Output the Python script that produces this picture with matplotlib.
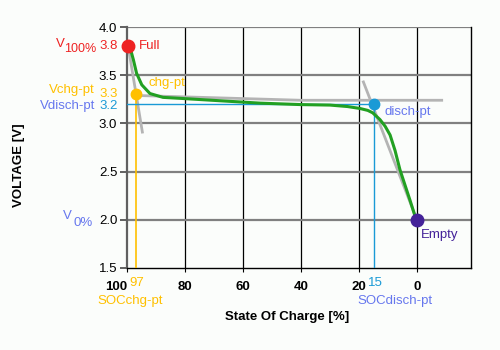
import matplotlib
matplotlib.use('Agg')
import matplotlib.pyplot as plt

plt.rcParams['font.family'] = ['Liberation Sans', 'DejaVu Sans']

# Discharge curve of the cell (SOC in %, voltage in V)
soc = [99.6, 98.7, 97.8, 96.7, 94.9, 92.1, 87.6, 81.7, 68, 54, 40, 30, 24,
       19.7, 17, 15.3, 12.8, 11, 9.3, 7.6, 5.9, 2.4, 0.3]
volt = [3.8, 3.76, 3.66, 3.52, 3.40, 3.31, 3.27, 3.26, 3.235, 3.21, 3.195,
        3.19, 3.175, 3.155, 3.135, 3.11, 3.04, 2.97, 2.88, 2.72, 2.52, 2.2, 2.0]

# Characteristic points
full_soc, full_v = 99.6, 3.8
chg_soc, chg_v = 97, 3.3
disch_soc, disch_v = 15, 3.2
empty_soc, empty_v = 0, 2.0

# Tangent construction lines
tan_full_soc = [99.6, 94.7]
tan_full_v = [3.8, 2.91]
tan_flat_soc = [97, 40, -8.5]
tan_flat_v = [3.29, 3.24, 3.24]
tan_end_soc = [18.5, 0.7]
tan_end_v = [3.43, 2.05]

x_ticks = [100, 80, 60, 40, 20, 0]
y_ticks = [1.5, 2.0, 2.5, 3.0, 3.5, 4.0]

RED = '#ee2222'
ORANGE = '#ffc000'
BLUE = '#1a9ad6'
LAV = '#6677ee'
PURPLE = '#442299'
GREEN = '#22a022'
BG = '#fbfdfb'

fig = plt.figure(figsize=(5, 3.5), dpi=100, facecolor=BG)
ax = fig.add_axes([127 / 500, 1 - 268 / 350, 344 / 500, 241 / 350])
ax.set_facecolor(BG)
ax.set_xlim(100, -18.6)
ax.set_ylim(1.5, 4.0)

# grid: black verticals, grey horizontals
for x in x_ticks[1:]:
    ax.axvline(x, color='black', lw=0.9, zorder=1)
for y in y_ticks[1:]:
    ax.axhline(y, color='#808080', lw=1.6, zorder=1)

ax.spines['top'].set_visible(False)
ax.spines['left'].set_color('#606060')
ax.spines['left'].set_linewidth(1.6)
ax.spines['bottom'].set_linewidth(1.0)
ax.spines['right'].set_linewidth(1.0)

ax.set_xticks(x_ticks)
ax.set_xticklabels([str(v) for v in x_ticks], fontweight='bold', fontsize=9.5)
ax.get_xticklabels()[0].set_ha('right')
ax.set_yticks(y_ticks)
ax.set_yticklabels(['%.1f' % v for v in y_ticks], fontsize=9.5)
ax.tick_params(axis='x', length=3, pad=6, direction='out')
ax.tick_params(axis='y', length=5, width=1.4, color='#606060', pad=2)

# construction lines
ax.plot(tan_full_soc, tan_full_v, color='#b4b4b4', lw=2, zorder=2)
ax.plot(tan_flat_soc, tan_flat_v, color='#b4b4b4', lw=2, zorder=2)
ax.plot(tan_end_soc, tan_end_v, color='#b4b4b4', lw=2, zorder=2)

ax.plot([chg_soc, chg_soc], [chg_v, 1.5], color=ORANGE, lw=1.2, zorder=3)
ax.plot([disch_soc, disch_soc], [disch_v, 1.5], color=BLUE, lw=1.0, zorder=3)
ax.plot([100, disch_soc], [disch_v, disch_v], color=BLUE, lw=1.0, zorder=3)

ax.plot(soc, volt, color=GREEN, lw=2.2, zorder=4)

ax.plot(full_soc, full_v, 'o', color=RED, ms=9, zorder=5, clip_on=False)
ax.plot(chg_soc, chg_v, 'o', color=ORANGE, ms=7.5, zorder=5)
ax.plot(disch_soc, disch_v, 'o', color=BLUE, ms=7.5, zorder=5)
ax.plot(empty_soc, empty_v, 'o', color=PURPLE, ms=9, zorder=5)

# point labels
ax.annotate('Full', (full_soc, full_v), xytext=(8, 0), textcoords='offset points',
            color=RED, fontsize=9.5, va='center')
ax.annotate('chg-pt', (chg_soc, chg_v), xytext=(9, 8), textcoords='offset points',
            color=ORANGE, fontsize=9.5, va='center')
ax.annotate('disch-pt', (disch_soc, disch_v), xytext=(8, -6), textcoords='offset points',
            color=LAV, fontsize=9.5, va='center')
ax.annotate('Empty', (empty_soc, empty_v), xytext=(3, -11), textcoords='offset points',
            color=PURPLE, fontsize=9.5, va='center')

# coloured values on the voltage axis
ytr = ax.get_yaxis_transform()
def vlabel(val, txt, color, dx, dy=0, size=9.5):
    ax.annotate(txt, (0, val), xycoords=ytr, xytext=(dx, dy), textcoords='offset points',
                ha='right', va='center', color=color, fontsize=size)

vlabel(full_v, '3.8', RED, -6.5)
vlabel(full_v, '100%', RED, -22, -2, 9)
vlabel(full_v, 'V', RED, -45, 2)
vlabel(chg_v, '3.3', ORANGE, -6.5)
vlabel(chg_v, 'Vchg-pt', ORANGE, -23, 3)
vlabel(disch_v, '3.2', BLUE, -6.5, -1)
vlabel(disch_v, 'Vdisch-pt', LAV, -23, -1)
vlabel(empty_v, '0%', LAV, -25, -2)
vlabel(empty_v, 'V', LAV, -39.5, 3)

# coloured values on the SOC axis
xtr = ax.get_xaxis_transform()
ax.annotate('97', (chg_soc, 0), xycoords=xtr, xytext=(1, -11), textcoords='offset points',
            ha='center', va='center', color=ORANGE, fontsize=9.5)
ax.annotate('15', (disch_soc, 0), xycoords=xtr, xytext=(1, -11), textcoords='offset points',
            ha='center', va='center', color=BLUE, fontsize=9.5)
fig.text(130 / 500, 1 - 301 / 350, 'SOCchg-pt', color=ORANGE, fontsize=9.5,
         ha='center', va='center')
fig.text(395 / 500, 1 - 301 / 350, 'SOCdisch-pt', color=LAV, fontsize=9.5,
         ha='center', va='center')

fig.text(287 / 500, 1 - 317 / 350, 'State Of Charge [%]', fontweight='bold',
         fontsize=9.5, ha='center', va='center')
fig.text(19 / 500, 1 - 165 / 350, 'VOLTAGE [V]', fontweight='bold', fontsize=9.5,
         rotation=90, ha='center', va='center')

fig.savefig('out.png', dpi=100, facecolor=BG)
